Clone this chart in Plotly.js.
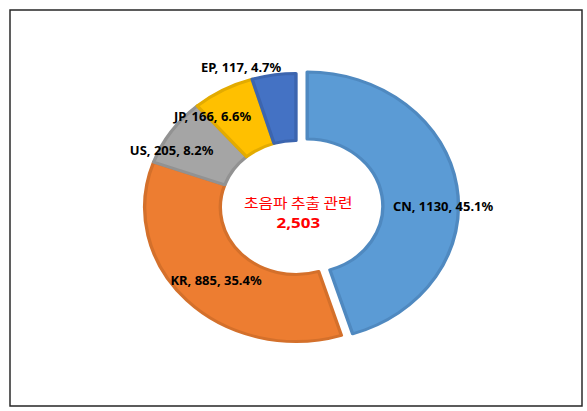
<!DOCTYPE html>
<html><head><meta charset="utf-8">
<script src="https://cdn.plot.ly/plotly-3.0.1.min.js"></script>
<style>
html,body{margin:0;padding:0;background:#fff;overflow:hidden;}
#chart{width:520px;height:411px;transform:scaleX(1.12885);transform-origin:0 0;}
</style></head><body><div id="chart"></div>
<script>
// ---- data ----
const categories = ['CN', 'KR', 'US', 'JP', 'EP'];
const counts = [1130, 885, 205, 166, 117];
const centerTitle = '초음파 추출 관련';

// ---- style / layout ----
const fillColors = ['#5B9BD5', '#ED7D31', '#A5A5A5', '#FFC000', '#4472C4'];
const edgeColors = ['#4F89C0', '#D4702B', '#929292', '#E3AB00', '#3C65AF'];
const pulls = [0.075, 0, 0, 0, 0];
const labelNudge = [[22, 16], [2, 3], [-27, 0], [-26, -3], [-33, -41]];

const W = 520, H = 411;
const domX = [0.1196, 0.8888], domY = [0.1446, 0.8456];
const hole = 0.5;

const total = counts.reduce((a, b) => a + b, 0);
const labelText = categories.map((c, i) =>
  c + ', ' + counts[i] + ', ' + (counts[i] / total * 100).toFixed(1) + '%');

const cx = W * (domX[0] + domX[1]) / 2;
const cy = H * (1 - (domY[0] + domY[1]) / 2);
const rx = W * (domX[1] - domX[0]) / 2, ry = H * (domY[1] - domY[0]) / 2;
const R = Math.min(rx, ry) / (1 + Math.max(...pulls));
const rMid = R * (1 + hole) / 2;

const labelFont = {family: '"Noto Sans", "DejaVu Sans", sans-serif', size: 11.5, color: '#000', weight: 'bold'};
const annotations = [];
let cum = 0;
counts.forEach((v, i) => {
  const frac = v / total;
  const a = (cum + frac / 2) * 2 * Math.PI;
  cum += frac;
  const rr = pulls[i] * R + rMid;
  const px = cx + rr * Math.sin(a);
  const py = cy - rr * Math.cos(a);
  annotations.push({
    x: px / W, y: 1 - py / H, xref: 'paper', yref: 'paper',
    xanchor: 'center', yanchor: 'middle',
    text: labelText[i], showarrow: false,
    xshift: labelNudge[i][0], yshift: -labelNudge[i][1],
    font: labelFont
  });
});
annotations.push({
  x: cx / W, y: 1 - cy / H, xref: 'paper', yref: 'paper', showarrow: false,
  xanchor: 'center', yanchor: 'middle',
  text: centerTitle, xshift: 2, yshift: 5.5,
  font: {family: '"Noto Sans CJK KR", sans-serif', size: 14, color: '#FF0000'}
});
annotations.push({
  x: cx / W, y: 1 - cy / H, xref: 'paper', yref: 'paper', showarrow: false,
  xanchor: 'center', yanchor: 'middle',
  text: total.toLocaleString('en-US'), xshift: 2, yshift: -14.5,
  font: {family: '"Noto Sans", sans-serif', size: 15, color: '#FF0000', weight: 'bold'}
});

const trace = {
  type: 'pie',
  labels: categories,
  values: counts,
  sort: false,
  direction: 'clockwise',
  rotation: 0,
  hole: hole,
  pull: pulls,
  textinfo: 'none',
  hoverinfo: 'label+value+percent',
  marker: {colors: fillColors, line: {color: edgeColors, width: 3}},
  domain: {x: domX, y: domY},
  showlegend: false
};

const layout = {
  width: W, height: H,
  margin: {l: 0, r: 0, t: 0, b: 0},
  paper_bgcolor: '#ffffff',
  showlegend: false,
  annotations: annotations,
  shapes: [{
    type: 'rect', xref: 'paper', yref: 'paper',
    x0: 10 / 587, x1: 582 / 587, y0: 1 - 406 / 411, y1: 1 - 10 / 411,
    line: {color: '#262626', width: 1.3}, fillcolor: 'rgba(0,0,0,0)'
  }]
};

Plotly.newPlot('chart', [trace], layout, {staticPlot: true, displayModeBar: false});
</script></body></html>
